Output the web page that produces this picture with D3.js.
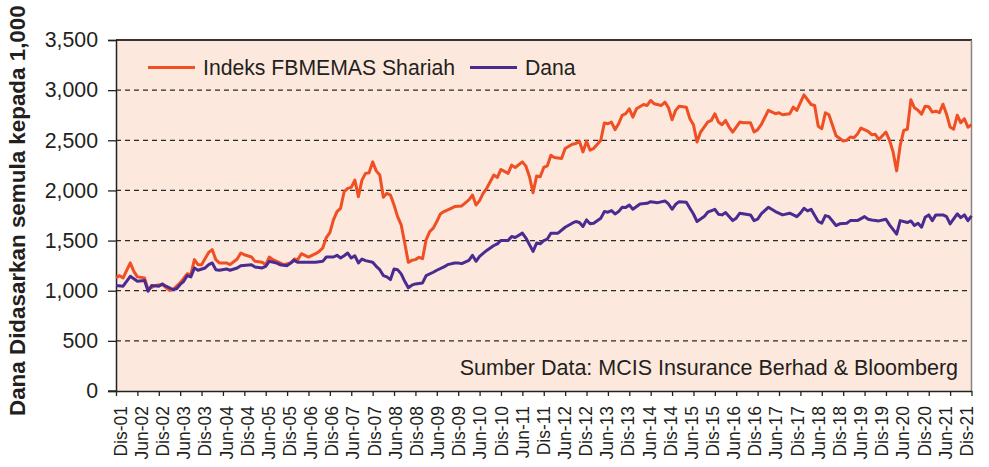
<!DOCTYPE html>
<html>
<head>
<meta charset="utf-8">
<script src="https://cdn.jsdelivr.net/npm/d3@7/dist/d3.min.js"></script>
<style>
  html, body { margin: 0; padding: 0; background: #ffffff; }
  svg { display: block; }
  text { font-family: "Liberation Sans", Arial, Helvetica, sans-serif; fill: #231f20; }
</style>
</head>
<body>
<svg id="chart" width="989" height="467"></svg>
<script>
// ---------------- DATA ----------------
// x-axis tick labels (every 6 months, Dis-01 .. Dis-21)
const tickLabels = ["Dis-01","Jun-02","Dis-02","Jun-03","Dis-03","Jun-04","Dis-04","Jun-05","Dis-05","Jun-06",
  "Dis-06","Jun-07","Dis-07","Jun-08","Dis-08","Jun-09","Dis-09","Jun-10","Dis-10","Jun-11",
  "Dis-11","Jun-12","Dis-12","Jun-13","Dis-13","Jun-14","Dis-14","Jun-15","Dis-15","Jun-16",
  "Dis-16","Jun-17","Dis-17","Jun-18","Dis-18","Jun-19","Dis-19","Jun-20","Dis-20","Jun-21","Dis-21"];
const yTicks = [0, 500, 1000, 1500, 2000, 2500, 3000, 3500];

const seriesNames = ["Indeks FBMEMAS Shariah", "Dana"];
const seriesColors = ["#f04e23", "#4a2c91"];

// months since Dec 2001
const fbmMonths = [0,1,2,4,5,6,8,9,11,
  13,15,16,18,20,21,22,23,24,
  26,27,28,29,31,32,34,35,36,
  38,39,41,42,43,44,46,47,
  49,50,51,52,54,56,57,58,59,60,
  61,62,63,64,65,66,67,68,69,70,71,72,
  73,74,75,76,77,78,79,80,81,82,83,84,
  85,86,87,88,89,90,91,92,94,95,
  97,99,100,101,102,103,104,106,107,108,
  110,111,112,114,115,116,117,118,119,120,
  121,122,123,125,126,128,129,130,131,132,
  133,134,136,137,138,139,140,141,142,143,144,
  145,146,148,149,150,151,153,154,155,156,
  157,158,160,161,162,163,164,166,167,168,
  169,170,171,172,173,174,175,176,178,179,180,
  181,183,185,186,187,189,190,191,
  193,195,196,197,198,199,200,202,204,
  205,206,207,208,209,211,212,213,214,216,
  217,218,219,220,221,222,223,224,225,226,227,228,
  229,230,231,232,233,234,235,236,237,238,239,240];
const fbmValues = [1130,1150,1128,1277,1193,1138,1128,1012,1052,
  1062,1005,1012,1078,1170,1160,1310,1260,1260,
  1382,1409,1310,1277,1277,1260,1316,1376,1359,
  1336,1293,1283,1260,1336,1310,1277,1260,
  1277,1316,1310,1369,1336,1369,1392,1426,1530,1580,
  1706,1789,1822,1987,2021,2031,2103,1938,2103,2170,2176,2285,
  2195,2153,1932,1971,1954,1855,1739,1657,1475,1283,1303,1310,
  1333,1319,1508,1590,1624,1690,1766,1789,1822,1839,
  1845,1905,1954,1855,1898,1971,2021,2153,2130,2209,
  2170,2252,2229,2285,2242,2136,1977,2143,2136,2229,
  2245,2351,2328,2318,2418,2460,2467,2490,2384,2490,
  2401,2418,2500,2672,2665,2682,2606,2665,2748,2765,2814,
  2731,2814,2857,2847,2897,2864,2847,2880,2824,2705,
  2798,2840,2830,2715,2655,2483,2582,2682,2698,2765,
  2682,2655,2698,2632,2582,2632,2682,2675,2675,2582,2606,
  2655,2798,2765,2774,2755,2765,2830,2798,
  2953,2857,2847,2639,2616,2774,2755,2545,2493,
  2500,2533,2526,2563,2622,2589,2556,2560,2507,2582,
  2500,2384,2195,2450,2599,2610,2904,2824,2800,2760,2840,2835,
  2781,2790,2775,2860,2760,2632,2610,2750,2675,2715,2630,2655];

const danaMonths = [0,2,4,6,8,9,10,12,13,14,
  16,17,18,19,20,21,22,23,25,26,
  27,28,29,31,32,34,35,38,39,41,
  42,43,45,46,48,49,50,51,53,56,
  58,59,61,62,63,64,65,66,67,68,
  69,70,72,73,74,75,76,77,78,79,
  80,81,82,83,84,86,87,89,90,92,
  93,95,96,97,99,100,101,102,104,106,
  107,108,110,111,112,114,115,117,118,119,
  120,121,122,124,126,128,129,130,131,132,
  133,134,136,137,138,139,140,141,142,143,
  144,145,147,149,150,152,154,155,156,157,
  158,160,161,162,163,165,166,168,169,170,
  171,173,174,175,178,179,180,181,183,185,
  187,189,191,192,193,194,195,197,198,199,
  200,202,203,205,206,208,210,211,212,214,
  216,217,219,220,222,223,224,225,226,227,
  228,229,230,232,233,234,236,237,238,239,240];
const danaValues = [1052,1045,1144,1094,1101,995,1052,1045,1068,1045,
  1012,1019,1062,1094,1151,1138,1227,1204,1227,1260,
  1277,1210,1204,1217,1204,1227,1250,1260,1237,1227,
  1243,1293,1277,1260,1250,1277,1303,1283,1283,1283,
  1293,1336,1336,1353,1326,1349,1376,1326,1349,1277,
  1316,1300,1283,1243,1210,1151,1138,1111,1217,1210,
  1168,1094,1029,1055,1068,1078,1151,1184,1204,1237,
  1260,1277,1277,1270,1303,1353,1293,1343,1402,1451,
  1468,1501,1501,1541,1531,1574,1525,1392,1475,1468,
  1500,1515,1574,1574,1633,1673,1690,1680,1640,1706,
  1667,1673,1723,1789,1783,1799,1766,1789,1832,1829,
  1855,1812,1865,1872,1888,1878,1895,1865,1812,1862,
  1888,1882,1822,1765,1690,1739,1783,1812,1763,1756,
  1779,1699,1723,1773,1756,1699,1713,1766,1832,1789,
  1756,1773,1739,1773,1822,1796,1812,1690,1673,1749,
  1739,1650,1667,1673,1699,1699,1739,1713,1706,1696,
  1713,1657,1564,1699,1680,1696,1650,1673,1633,1733,
  1756,1699,1756,1756,1739,1667,1766,1729,1756,1699,1746];

const yAxisTitle = "Dana Didasarkan semula kepada 1,000";
const sourceNote = "Sumber Data: MCIS Insurance Berhad & Bloomberg";

// ---------------- CHART ----------------
const svg = d3.select("#chart");
const plot = { left: 116, right: 971.5, top: 40, bottom: 391 };

const x = d3.scaleLinear().domain([0, 240]).range([plot.left, plot.right]);
const y = d3.scaleLinear().domain([0, 3500]).range([plot.bottom, plot.top]);
const tickMonths = tickLabels.map((d, i) => i * 6);
const labelPos = d3.scaleLinear().domain([0, tickLabels.length - 1]).range([120.5, 966.5]);

svg.append("rect").attr("width", 989).attr("height", 467).attr("fill", "#ffffff");

// plot background
svg.append("rect")
  .attr("x", plot.left).attr("y", plot.top)
  .attr("width", plot.right - plot.left).attr("height", plot.bottom - plot.top)
  .attr("fill", "#fde8dd");

// dashed gridlines
svg.append("g").selectAll("line")
  .data(yTicks.filter(d => d > 0 && d < 3500))
  .join("line")
  .attr("x1", plot.left).attr("x2", plot.right)
  .attr("y1", d => y(d)).attr("y2", d => y(d))
  .attr("stroke", "#2a2a2a").attr("stroke-width", 1.3)
  .attr("stroke-dasharray", "5,4");

// top & right frame
svg.append("line").attr("x1", plot.left).attr("x2", plot.right + 0.5)
  .attr("y1", y(3500)).attr("y2", y(3500))
  .attr("stroke", "#3a3330").attr("stroke-width", 2);
svg.append("line").attr("x1", plot.right).attr("x2", plot.right)
  .attr("y1", plot.top).attr("y2", plot.bottom)
  .attr("stroke", "#8a8482").attr("stroke-width", 1.5);

// left axis
const yAxis = d3.axisLeft(y).tickValues(yTicks).tickFormat(d3.format(",")).tickSize(8).tickPadding(10);
const gy = svg.append("g").attr("transform", `translate(${plot.left},0)`).call(yAxis);
gy.select(".domain").attr("stroke", "#222").attr("stroke-width", 1.5);
gy.selectAll(".tick line").attr("stroke", "#222").attr("stroke-width", 1.3);
gy.selectAll(".tick text").attr("font-size", 21.3).attr("fill", "#231f20")
  .style("font-family", "'Liberation Sans', Arial, sans-serif");

// bottom axis
const xAxis = d3.axisBottom(x).tickValues(tickMonths).tickFormat("").tickSize(5).tickSizeOuter(0);
const gx = svg.append("g").attr("transform", `translate(0,${plot.bottom})`).call(xAxis);
gx.select(".domain").attr("stroke", "#222").attr("stroke-width", 1.5);
gx.selectAll(".tick line").attr("stroke", "#222").attr("stroke-width", 1.3);

// extend bottom axis line slightly left like the reference
svg.append("line").attr("x1", plot.left - 8).attr("x2", plot.left)
  .attr("y1", plot.bottom).attr("y2", plot.bottom).attr("stroke", "#222").attr("stroke-width", 1.3);

// x tick labels (rotated)
svg.append("g").selectAll("text")
  .data(tickLabels)
  .join("text")
  .attr("transform", (d, i) => `translate(${labelPos(i)},406) rotate(-90)`)
  .attr("text-anchor", "end")
  .attr("dy", "0.36em")
  .attr("font-size", 17.5)
  .text(d => d);

// lines
const line = d3.line().x(d => x(d[0])).y(d => y(d[1]));
const fbmData = fbmMonths.map((m, i) => [m, fbmValues[i]]);
const danaData = danaMonths.map((m, i) => [m, danaValues[i]]);

svg.append("path").datum(fbmData)
  .attr("d", line).attr("fill", "none")
  .attr("stroke", seriesColors[0]).attr("stroke-width", 3)
  .attr("stroke-linejoin", "round");
svg.append("path").datum(danaData)
  .attr("d", line).attr("fill", "none")
  .attr("stroke", seriesColors[1]).attr("stroke-width", 3)
  .attr("stroke-linejoin", "round");

// legend
const legendX = [148, 470];
const legend = svg.append("g");
seriesNames.forEach((name, i) => {
  legend.append("line")
    .attr("x1", legendX[i]).attr("x2", legendX[i] + 47)
    .attr("y1", 67.5).attr("y2", 67.5)
    .attr("stroke", seriesColors[i]).attr("stroke-width", 3);
  legend.append("text")
    .attr("x", legendX[i] + 55).attr("y", 75)
    .attr("font-size", 21.2)
    .text(name);
});

// source note
svg.append("text")
  .attr("x", 958).attr("y", 375)
  .attr("text-anchor", "end")
  .attr("font-size", 21.5)
  .text(sourceNote);

// y axis title
svg.append("text")
  .attr("transform", "translate(25,416) rotate(-90)")
  .attr("text-anchor", "start")
  .attr("font-size", 22.4)
  .attr("font-weight", "bold")
  .text(yAxisTitle);
</script>
</body>
</html>
